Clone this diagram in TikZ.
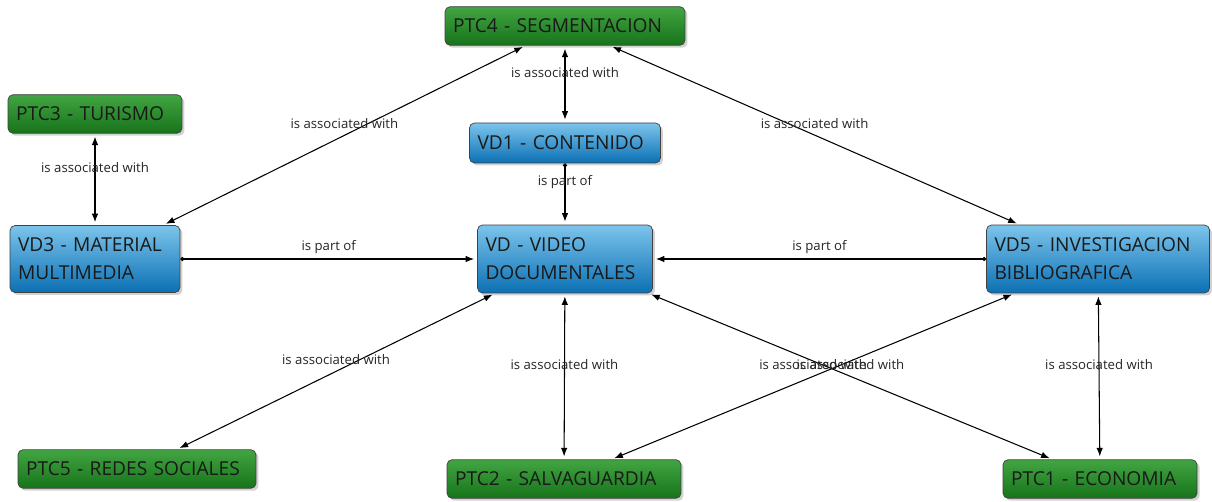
\documentclass[tikz,border=0pt]{standalone}
\usepackage{fontspec}
\setmainfont{Open Sans}
\usetikzlibrary{arrows.meta,shadows}
\definecolor{ptctop}{HTML}{42A542}
\definecolor{ptcbot}{HTML}{17731A}
\definecolor{vdtop}{HTML}{7CC4EB}
\definecolor{vdbot}{HTML}{0B70B4}
\begin{document}
\begin{tikzpicture}[x=0.02cm,y=-0.02cm,
  box/.style={draw=black!75,rounded corners=0.1cm,inner xsep=0.16cm,inner ysep=0pt,align=left,
    font=\fontsize{10.9}{15.9}\selectfont,text=black!90,
    drop shadow={shadow xshift=0.05cm,shadow yshift=-0.05cm,opacity=0.35}},
  ptc/.style={box,top color=ptctop,bottom color=ptcbot,minimum height=0.77cm},
  vd/.style={box,top color=vdtop,bottom color=vdbot},
  tip/.tip={Latex[length=0.17cm,width=0.13cm]},
  assoc/.style={tip-tip,line width=0.6pt,shorten <=0.06cm,shorten >=0.06cm},
  part/.style={{Circle[length=0.08cm]}-tip,line width=0.6pt,shorten >=0.06cm},
  lbl/.style={midway,yshift=0.24cm,inner sep=1pt,font=\fontsize{7.5}{8}\selectfont,text=black!85}]
\useasboundingbox (0,0) rectangle (1212,502);
\fill[white] (0,0) rectangle (1212,502);

\node[ptc,text width=4.48cm] (ptc4) at (565,26) {PTC4 - SEGMENTACION};
\node[ptc,text width=3.16cm] (ptc3) at (95,114) {PTC3 - TURISMO};
\node[vd,text width=3.5cm,minimum height=0.8cm] (vd1) at (565,143) {VD1 - CONTENIDO};
\node[vd,text width=3.08cm,minimum height=1.34cm] (vd3) at (95,259) {VD3 - MATERIAL\\MULTIMEDIA};
\node[vd,text width=3.18cm,minimum height=1.36cm] (vd) at (565,259) {VD - VIDEO\\DOCUMENTALES};
\node[vd,text width=4.14cm,minimum height=1.36cm] (vd5) at (1098,259) {VD5 - INVESTIGACION\\BIBLIOGRAFICA};
\node[ptc,text width=4.44cm] (ptc5) at (137,469) {PTC5 - REDES SOCIALES};
\node[ptc,text width=4.36cm] (ptc2) at (564,479) {PTC2 - SALVAGUARDIA};
\node[ptc,text width=3.56cm] (ptc1) at (1100,479) {PTC1 - ECONOMIA};

\draw [assoc] (ptc4) -- node[lbl]{is associated with} (vd1) ;
\draw [assoc] (ptc4) -- node[lbl]{is associated with} (vd3) ;
\draw [assoc] (ptc4) -- node[lbl]{is associated with} (vd5) ;
\draw [assoc] (ptc3) -- node[lbl]{is associated with} (vd3) ;
\draw [part] (vd1) -- node[lbl]{is part of} (vd) ;
\draw [part] (vd3) -- node[lbl]{is part of} (vd) ;
\draw [part] (vd5) -- node[lbl]{is part of} (vd) ;
\draw [assoc] (vd) -- node[lbl]{is associated with} (ptc5) ;
\draw [assoc] (vd) -- node[lbl]{is associated with} (ptc2) ;
\draw [assoc] (vd) -- node[lbl]{is associated with} (ptc1) ;
\draw [assoc] (vd5) -- node[lbl]{is associated with} (ptc2) ;
\draw [assoc] (vd5) -- node[lbl]{is associated with} (ptc1) ;
\end{tikzpicture}
\end{document}
